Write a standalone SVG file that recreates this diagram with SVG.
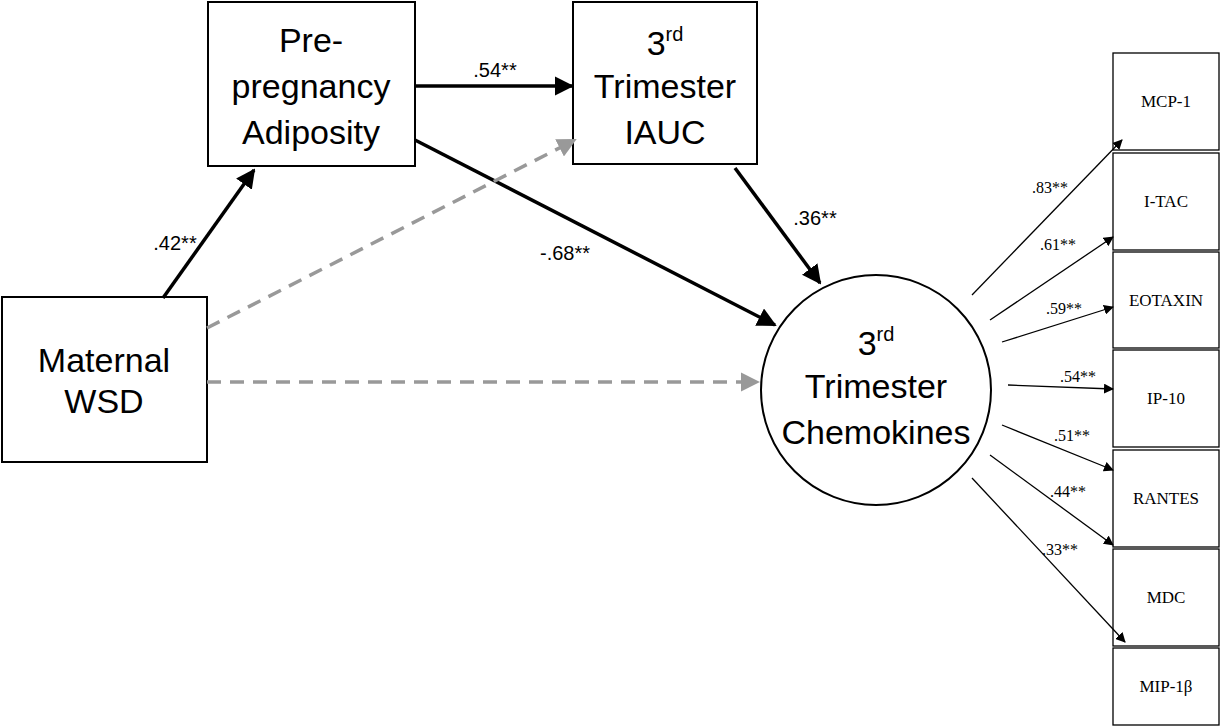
<svg xmlns="http://www.w3.org/2000/svg" width="1224" height="728" viewBox="0 0 1224 728">
<style>
.b{fill:#fff;stroke:#000;stroke-width:2}
.r{fill:#fff;stroke:#000;stroke-width:1.3}
.t{font-family:"Liberation Sans",Arial,sans-serif;font-size:34px;text-anchor:middle;fill:#000}
.s{font-family:"Liberation Serif",serif;font-size:17px;text-anchor:middle;fill:#000}
.l{font-family:"Liberation Sans",Arial,sans-serif;font-size:20px;text-anchor:middle;fill:#000}
.ls{font-family:"Liberation Serif",serif;font-size:16px;text-anchor:middle;fill:#000}
.k{stroke:#000;stroke-width:3.5;fill:none}
.g{stroke:#999;stroke-width:3.5;fill:none;stroke-dasharray:14,9}
.n{stroke:#000;stroke-width:1.3;fill:none}
</style>
<defs>
<marker id="ak" viewBox="0 0 10 10" refX="9" refY="5" markerWidth="5.5" markerHeight="5.5" orient="auto"><path d="M0,0L10,5L0,10Z" fill="#000"/></marker>
<marker id="ag" viewBox="0 0 10 10" refX="9" refY="5" markerWidth="5.5" markerHeight="5.5" orient="auto"><path d="M0,0L10,5L0,10Z" fill="#999"/></marker>
<marker id="an" viewBox="0 0 10 10" refX="9" refY="5" markerWidth="10" markerHeight="10" markerUnits="userSpaceOnUse" orient="auto"><path d="M0,0L10,5L0,10Z" fill="#000"/></marker>
</defs>
<g id="wsd"><rect class="b" x="2" y="297" width="205" height="165"/><text class="t" x="104" y="372">Maternal</text><text class="t" x="104" y="413">WSD</text></g>
<g id="adiposity"><rect class="b" x="208" y="2" width="207" height="164"/><text class="t" x="311" y="52">Pre-</text><text class="t" x="311" y="98">pregnancy</text><text class="t" x="311" y="144">Adiposity</text></g>
<g id="iauc"><rect class="b" x="573" y="2" width="184" height="162"/><text class="t" x="665" y="55">3<tspan font-size="20" dy="-14">rd</tspan></text><text class="t" x="665" y="98">Trimester</text><text class="t" x="665" y="144">IAUC</text></g>
<g id="chemokines"><circle class="b" cx="876" cy="390" r="115"/><text class="t" x="876" y="355">3<tspan font-size="20" dy="-14">rd</tspan></text><text class="t" x="876" y="398">Trimester</text><text class="t" x="876" y="444">Chemokines</text></g>
<g id="mcp1"><rect class="r" x="1113" y="53" width="106" height="97"/><text class="s" x="1166" y="107">MCP-1</text></g>
<g id="itac"><rect class="r" x="1113" y="153" width="106" height="97"/><text class="s" x="1166" y="207">I-TAC</text></g>
<g id="eotaxin"><rect class="r" x="1113" y="252" width="106" height="96"/><text class="s" x="1166" y="306">EOTAXIN</text></g>
<g id="ip10"><rect class="r" x="1113" y="350" width="106" height="97"/><text class="s" x="1166" y="404">IP-10</text></g>
<g id="rantes"><rect class="r" x="1113" y="450" width="106" height="97"/><text class="s" x="1166" y="504">RANTES</text></g>
<g id="mdc"><rect class="r" x="1113" y="549" width="106" height="97"/><text class="s" x="1166" y="603">MDC</text></g>
<g id="mip"><rect class="r" x="1113" y="648" width="106" height="77"/><text class="s" x="1166" y="692">MIP-1β</text></g>
<g id="connectors">
<line class="k" x1="163" y1="298" x2="254" y2="170" marker-end="url(#ak)"/>
<line class="k" x1="415" y1="86" x2="572" y2="86" marker-end="url(#ak)"/>
<line class="k" x1="415" y1="140" x2="775" y2="325" marker-end="url(#ak)"/>
<line class="k" x1="735" y1="168" x2="820" y2="283" marker-end="url(#ak)"/>
<line class="g" x1="207" y1="328" x2="575" y2="140" marker-end="url(#ag)"/>
<line class="g" x1="207" y1="382" x2="758" y2="382" marker-end="url(#ag)"/>
<line class="n" x1="972" y1="295" x2="1122" y2="140" marker-end="url(#an)"/>
<line class="n" x1="990" y1="320" x2="1113" y2="237" marker-end="url(#an)"/>
<line class="n" x1="1002" y1="342" x2="1113" y2="307" marker-end="url(#an)"/>
<line class="n" x1="1008" y1="385" x2="1113" y2="389" marker-end="url(#an)"/>
<line class="n" x1="1002" y1="425" x2="1113" y2="470" marker-end="url(#an)"/>
<line class="n" x1="990" y1="455" x2="1113" y2="545" marker-end="url(#an)"/>
<line class="n" x1="972" y1="478" x2="1125" y2="642" marker-end="url(#an)"/>
<text class="l" x="175" y="250">.42**</text>
<text class="l" x="495" y="77">.54**</text>
<text class="l" x="565" y="260">-.68**</text>
<text class="l" x="815" y="225">.36**</text>
<text class="ls" x="1050" y="193">.83**</text>
<text class="ls" x="1058" y="250">.61**</text>
<text class="ls" x="1064" y="314">.59**</text>
<text class="ls" x="1078" y="382">.54**</text>
<text class="ls" x="1072" y="441">.51**</text>
<text class="ls" x="1068" y="497">.44**</text>
<text class="ls" x="1060" y="555">.33**</text>
</g>
</svg>
